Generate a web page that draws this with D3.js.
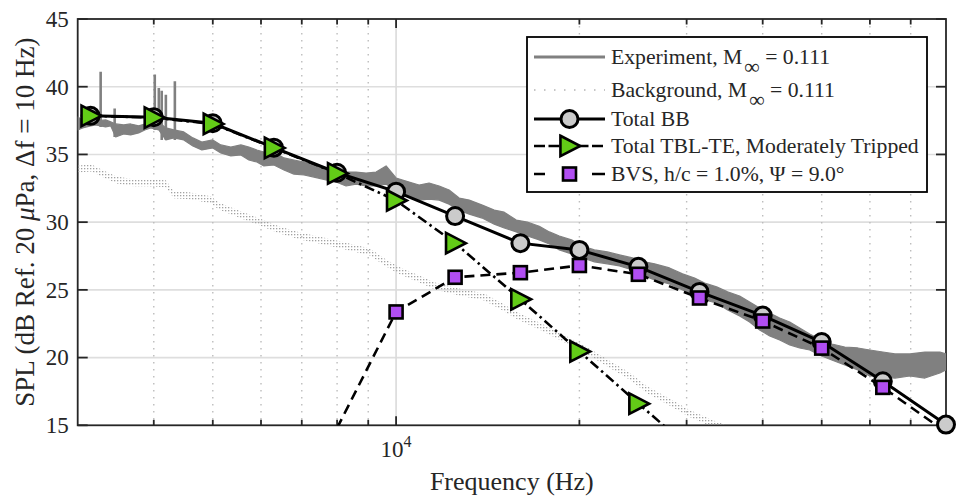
<!DOCTYPE html>
<html>
<head>
<meta charset="utf-8">
<script src="https://cdn.jsdelivr.net/npm/d3@7"></script>
<style>
  body { margin: 0; background: #fff; }
  svg text { font-family: "Liberation Serif", "Times New Roman", serif; fill: #262626; }
</style>
</head>
<body>
<svg id="chart" width="958" height="497" font-family="Liberation Serif, Times New Roman, serif"></svg>
<script>
// ---- one-third-octave model predictions (dB) ----
const bbFreq  = [3150, 4000, 5000, 6300, 8000, 10000, 12500, 16000, 20000, 25000, 31500, 40000, 50000, 63000, 80000];
const bbLevel = [37.85, 37.75, 37.3, 35.5, 33.65, 32.25, 30.45, 28.45, 27.95, 26.7, 24.85, 23.1, 21.15, 18.25, 15.05];

const tblFreq  = [3150, 4000, 5000, 6300, 8000, 10000, 12500, 16000, 20000, 25000, 31500];
const tblLevel = [37.85, 37.72, 37.25, 35.48, 33.6, 31.6, 28.45, 24.3, 20.45, 16.6, 12.7];

const bvsFreq  = [8000, 10000, 12500, 16000, 20000, 25000, 31500, 40000, 50000, 63000, 80000];
const bvsLevel = [14.8, 23.37, 25.93, 26.27, 26.8, 26.15, 24.4, 22.7, 20.7, 17.8, 14.5];

// ---- narrowband experiment (lower / upper envelope of the 10 Hz spectrum) ----
const expFreq = [3000, 3057, 3151, 3211, 3334, 3398, 3464, 3570, 3665, 3778, 3866, 3955, 4077, 4187, 4315,
  4481, 4637, 4797, 5000, 5154, 5353, 5560, 5731, 5907, 6066, 6300, 6544, 6796, 7060, 7331, 7673, 7969,
  8276, 8594, 8928, 9271, 9629, 10000, 10505, 10910, 11330, 11770, 12220, 12693, 13187, 13850, 14495,
  15050, 15753, 16430, 17185, 17853, 18540, 19410, 20227, 21170, 22233, 23270, 24450, 25580, 26570,
  28120, 29540, 30920, 32120, 33600, 35030, 36660, 38070, 39540, 41070, 42650, 44300, 46000, 47780,
  50000, 51940, 54560, 57320, 59980, 63010, 65960, 69800, 73870, 78170, 80000];
const expHi = [37.77, 37.55, 37.70, 37.48, 37.55, 37.40, 37.25, 37.18, 37.25, 37.11, 37.25, 37.40, 37.40, 36.96, 36.81,
  36.66, 36.22, 35.92, 36.07, 35.70, 35.55, 35.70, 35.55, 35.33, 35.18, 35.18, 34.74, 34.59, 34.44, 34.37, 34.00, 33.85,
  33.70, 33.70, 33.63, 33.70, 34.15, 33.26, 32.96, 32.74, 32.89, 32.67, 32.37, 31.78, 31.63, 31.26, 30.89,
  30.74, 30.15, 30.00, 29.70, 29.28, 28.98, 28.69, 28.24, 27.95, 27.80, 27.58, 27.36, 27.07, 26.92,
  26.62, 26.18, 25.88, 25.51, 25.22, 24.85, 24.55, 24.11, 23.66, 23.29, 22.92, 22.63, 22.18, 21.74,
  21.30, 21.00, 20.78, 20.71, 20.56, 20.41, 20.27, 20.27, 20.41, 20.41, 20.27];
const expLo = [36.81, 36.96, 37.11, 37.18, 37.03, 37.11, 36.29, 36.51, 36.44, 36.59, 36.81, 36.96, 36.81, 36.07, 36.22,
  36.07, 35.63, 35.33, 35.48, 35.11, 34.89, 34.96, 34.59, 34.44, 34.15, 34.22, 33.85, 33.55, 33.48, 33.33, 33.11, 32.96,
  32.67, 32.81, 32.67, 32.67, 32.81, 32.22, 31.92, 31.63, 31.70, 31.63, 31.33, 30.89, 30.59, 30.30, 29.85,
  29.57, 29.28, 28.98, 28.69, 28.39, 27.95, 27.66, 27.37, 27.07, 26.92, 26.77, 26.47, 26.03, 25.74,
  25.44, 25.00, 24.55, 24.25, 24.03, 23.52, 23.08, 22.63, 22.04, 21.60, 21.30, 20.94, 20.71, 20.56,
  20.12, 19.82, 19.45, 19.09, 18.64, 18.57, 18.49, 18.64, 18.49, 18.86, 19.09];
// tonal peaks in the experiment spectrum
const spikeFreq = [3272, 3450, 4015, 4077, 4122, 4187, 4332];
const spikeTop  = [41.1, 38.4, 40.9, 39.9, 39.7, 39.4, 40.4];

// ---- background noise spectrum ----
const bgFreq = [3000, 3162, 3309, 3476, 3708, 3925, 4187, 4315, 4567, 4962, 5115, 5518, 5975, 6421, 6953, 7471,
  8120, 9062, 9557, 10076, 10910, 11590, 12693, 13953, 14770, 15812, 17185, 19040, 20770, 22233, 24164,
  25870, 28120, 30220, 33220, 34630];
const bgLevel = [33.93, 34.0, 33.56, 33.12, 32.90, 32.90, 32.83, 32.02, 31.95, 31.65, 31.20, 30.61, 30.02, 29.43, 28.98, 28.69,
  28.32, 27.80, 27.07, 26.47, 25.81, 25.29, 24.85, 24.48, 23.89, 23.08, 22.34, 21.31, 20.42, 19.60, 18.64,
  17.61, 16.72, 15.91, 15.10, 14.8];

// ---- axes ----
const yTicks = [15, 20, 25, 30, 35, 40, 45];
const xMinorTicks = [4000, 5000, 6000, 7000, 8000, 9000, 20000, 30000, 40000, 50000, 60000, 70000];
const xMajorTicks = [10000];

const legendLabels = [
  ["Experiment, M", "\u221E", " = 0.111"],
  ["Background, M", "\u221E", " = 0.111"],
  ["Total BB"],
  ["Total TBL-TE, Moderately Tripped"],
  ["BVS, h/c = 1.0%, \u03A8 = 9.0\u00B0"]
];

const SERIF = "Liberation Serif, Times New Roman, serif";
const svg = d3.select("#chart");
const L = 77.7, R = 946, T = 19, B = 425.3;
const x = d3.scaleLog().domain([3000, 80000]).range([L, R]);
const y = d3.scaleLinear().domain([15, 45]).range([B, T]);

const GREEN = "#63cc17", PURPLE = "#b14ef2", CIRCLE = "#cbcbcb";
const AX = "#262626";

const defs = svg.append("defs");
defs.append("clipPath").attr("id", "plotClip")
  .append("rect").attr("x", L).attr("y", T).attr("width", R - L).attr("height", B - T);
const pat = defs.append("pattern").attr("id", "bgDots")
  .attr("width", 3).attr("height", 3).attr("patternUnits", "userSpaceOnUse");
pat.append("rect").attr("width", 1.3).attr("height", 1.3).attr("fill", "#a2a2a2");

// ---- grid ----
const grid = svg.append("g");
grid.selectAll(".hg").data(yTicks.filter(d => d > 15 && d < 45)).join("line")
  .attr("x1", L).attr("x2", R).attr("y1", d => y(d)).attr("y2", d => y(d))
  .attr("stroke", "#dedede").attr("stroke-width", 1.6);
grid.selectAll(".vg").data(xMinorTicks).join("line")
  .attr("x1", d => x(d)).attr("x2", d => x(d)).attr("y1", T).attr("y2", B)
  .attr("stroke", "#bdbdbd").attr("stroke-width", 1.4).attr("stroke-dasharray", "1.4 5.6");
grid.selectAll(".vM").data(xMajorTicks).join("line")
  .attr("x1", d => x(d)).attr("x2", d => x(d)).attr("y1", T).attr("y2", B)
  .attr("stroke", "#dadada").attr("stroke-width", 1.6);

// ---- frame, ticks and labels ----
const frame = svg.append("g");
frame.append("rect").attr("x", L).attr("y", T).attr("width", R - L).attr("height", B - T)
  .attr("fill", "none").attr("stroke", AX).attr("stroke-width", 1.8);
yTicks.forEach(v => {
  frame.append("line").attr("x1", L).attr("x2", L + 10).attr("y1", y(v)).attr("y2", y(v))
    .attr("stroke", AX).attr("stroke-width", 1.8);
  frame.append("line").attr("x1", R).attr("x2", R - 10).attr("y1", y(v)).attr("y2", y(v))
    .attr("stroke", AX).attr("stroke-width", 1.8);
  frame.append("text").attr("x", L - 9).attr("y", y(v)).attr("dy", "0.34em")
    .attr("font-family", SERIF).attr("text-anchor", "end").attr("font-size", 23).text(v);
});
const xTickMarks = xMinorTicks.map(f => [f, 5.5]).concat(xMajorTicks.map(f => [f, 9]));
xTickMarks.forEach(([f, len]) => {
  frame.append("line").attr("x1", x(f)).attr("x2", x(f)).attr("y1", B).attr("y2", B - len)
    .attr("stroke", AX).attr("stroke-width", 1.8);
  frame.append("line").attr("x1", x(f)).attr("x2", x(f)).attr("y1", T).attr("y2", T + len)
    .attr("stroke", AX).attr("stroke-width", 1.8);
});
xMajorTicks.forEach(f => {
  const t = frame.append("text").attr("x", x(f)).attr("y", 457).attr("text-anchor", "middle")
    .attr("font-family", SERIF).attr("font-size", 23);
  t.append("tspan").text("10");
  t.append("tspan").attr("dy", -10).attr("font-size", 16).text(Math.log10(f));
});
svg.append("text").attr("x", (L + R) / 2).attr("y", 490).attr("text-anchor", "middle")
  .attr("font-family", SERIF).attr("font-size", 26).text("Frequency (Hz)");
const yl = svg.append("text").attr("transform", `translate(34,${(T + B) / 2}) rotate(-90)`)
  .attr("font-family", SERIF).attr("text-anchor", "middle").attr("font-size", 27);
yl.append("tspan").text("SPL (dB Ref. 20 ");
yl.append("tspan").attr("font-style", "italic").text("\u03BC");
yl.append("tspan").text("Pa, \u0394f = 10 Hz)");

// ---- measured spectra ----
const plot = svg.append("g").attr("clip-path", "url(#plotClip)");
const expRows = expFreq.map((f, i) => ({ f, lo: expLo[i], hi: expHi[i] }));
plot.append("path").datum(expRows)
  .attr("d", d3.area().x(d => x(d.f)).y0(d => y(d.lo)).y1(d => y(d.hi)))
  .attr("fill", "#808080").attr("stroke", "#808080").attr("stroke-width", 1.2).attr("stroke-linejoin", "round");
const loAt = f => {
  const i = d3.bisectLeft(expFreq, f);
  return expLo[Math.min(i, expLo.length - 1)];
};
plot.selectAll(".spk").data(spikeFreq.map((f, i) => ({ f, top: spikeTop[i] }))).join("line")
  .attr("x1", d => x(d.f)).attr("x2", d => x(d.f))
  .attr("y1", d => y(loAt(d.f))).attr("y2", d => y(d.top))
  .attr("stroke", "#808080").attr("stroke-width", 2.6);

const bgRows = bgFreq.map((f, i) => ({ f, v: bgLevel[i] }));
plot.append("path").datum(bgRows)
  .attr("d", d3.area().x(d => x(d.f)).y0(d => y(d.v) + 3.5).y1(d => y(d.v) - 3.5))
  .attr("fill", "url(#bgDots)");

// ---- model curves ----
const line = d3.line().x(d => x(d.f)).y(d => y(d.v));
const rows = (fs, vs) => fs.map((f, i) => ({ f, v: vs[i] }));
const inRange = d => d.v >= 15 && d.v <= 45 && d.f >= 3000 && d.f <= 80000;

function triPath(s) {
  return `M${-0.55 * s},${-0.62 * s}L${0.65 * s},0L${-0.55 * s},${0.62 * s}Z`;
}

// Total BB
const bb = rows(bbFreq, bbLevel);
plot.append("path").datum(bb).attr("d", line).attr("fill", "none")
  .attr("stroke", "#000").attr("stroke-width", 3);
svg.append("g").selectAll("circle").data(bb.filter(inRange)).join("circle")
  .attr("cx", d => x(d.f)).attr("cy", d => y(d.v)).attr("r", 8.5)
  .attr("fill", CIRCLE).attr("stroke", "#000").attr("stroke-width", 3);

// Total TBL-TE
const tbl = rows(tblFreq, tblLevel);
plot.append("path").datum(tbl).attr("d", line).attr("fill", "none")
  .attr("stroke", "#000").attr("stroke-width", 2.6).attr("stroke-dasharray", "10 4 2.5 4");
svg.append("g").selectAll("path").data(tbl.filter(inRange)).join("path")
  .attr("transform", d => `translate(${x(d.f)},${y(d.v)})`).attr("d", triPath(16.5))
  .attr("fill", GREEN).attr("stroke", "#000").attr("stroke-width", 2.6).attr("stroke-linejoin", "miter");

// BVS
const bvs = rows(bvsFreq, bvsLevel);
plot.append("path").datum(bvs).attr("d", line).attr("fill", "none")
  .attr("stroke", "#000").attr("stroke-width", 2.6).attr("stroke-dasharray", "10 6");
svg.append("g").selectAll("rect").data(bvs.filter(inRange)).join("rect")
  .attr("x", d => x(d.f) - 6.5).attr("y", d => y(d.v) - 6.5).attr("width", 13).attr("height", 13)
  .attr("fill", PURPLE).attr("stroke", "#000").attr("stroke-width", 2.6);

// ---- legend ----
const lg = svg.append("g");
lg.append("rect").attr("x", 527).attr("y", 37).attr("width", 400).attr("height", 155)
  .attr("fill", "#fff").attr("stroke", "#000").attr("stroke-width", 1.8);
const rowY = [57, 90, 119, 146, 174];
const sx0 = 534, sx1 = 605, smid = 569.5, tx = 611;
lg.append("line").attr("x1", sx0).attr("x2", sx1).attr("y1", rowY[0]).attr("y2", rowY[0])
  .attr("stroke", "#808080").attr("stroke-width", 3);
lg.append("line").attr("x1", sx0).attr("x2", sx1).attr("y1", rowY[1]).attr("y2", rowY[1])
  .attr("stroke", "#b4b4b4").attr("stroke-width", 1.5).attr("stroke-dasharray", "1.5 8.5");
lg.append("line").attr("x1", sx0).attr("x2", sx1).attr("y1", rowY[2]).attr("y2", rowY[2])
  .attr("stroke", "#000").attr("stroke-width", 3);
lg.append("circle").attr("cx", smid).attr("cy", rowY[2]).attr("r", 8.5)
  .attr("fill", CIRCLE).attr("stroke", "#000").attr("stroke-width", 3);
lg.append("line").attr("x1", sx0).attr("x2", sx1).attr("y1", rowY[3]).attr("y2", rowY[3])
  .attr("stroke", "#000").attr("stroke-width", 2.6).attr("stroke-dasharray", "11 3.5");
lg.append("path").attr("transform", `translate(${smid},${rowY[3]})`).attr("d", triPath(16.5))
  .attr("fill", GREEN).attr("stroke", "#000").attr("stroke-width", 2.6);
lg.append("line").attr("x1", sx0).attr("x2", sx1).attr("y1", rowY[4]).attr("y2", rowY[4])
  .attr("stroke", "#000").attr("stroke-width", 2.6).attr("stroke-dasharray", "11 47 13");
lg.append("rect").attr("x", smid - 6.5).attr("y", rowY[4] - 6.5).attr("width", 13).attr("height", 13)
  .attr("fill", PURPLE).attr("stroke", "#000").attr("stroke-width", 2.6);

legendLabels.forEach((parts, i) => {
  const t = lg.append("text").attr("x", tx).attr("y", rowY[i] + 7)
    .attr("font-family", SERIF).attr("font-size", 21.7).attr("fill", "#000");
  t.append("tspan").text(parts[0]);
  if (parts.length > 1) {
    t.append("tspan").attr("dx", 2).attr("dy", 10).text(parts[1]);
    t.append("tspan").attr("dy", -10).text(parts[2]);
  }
});
</script>
</body>
</html>
